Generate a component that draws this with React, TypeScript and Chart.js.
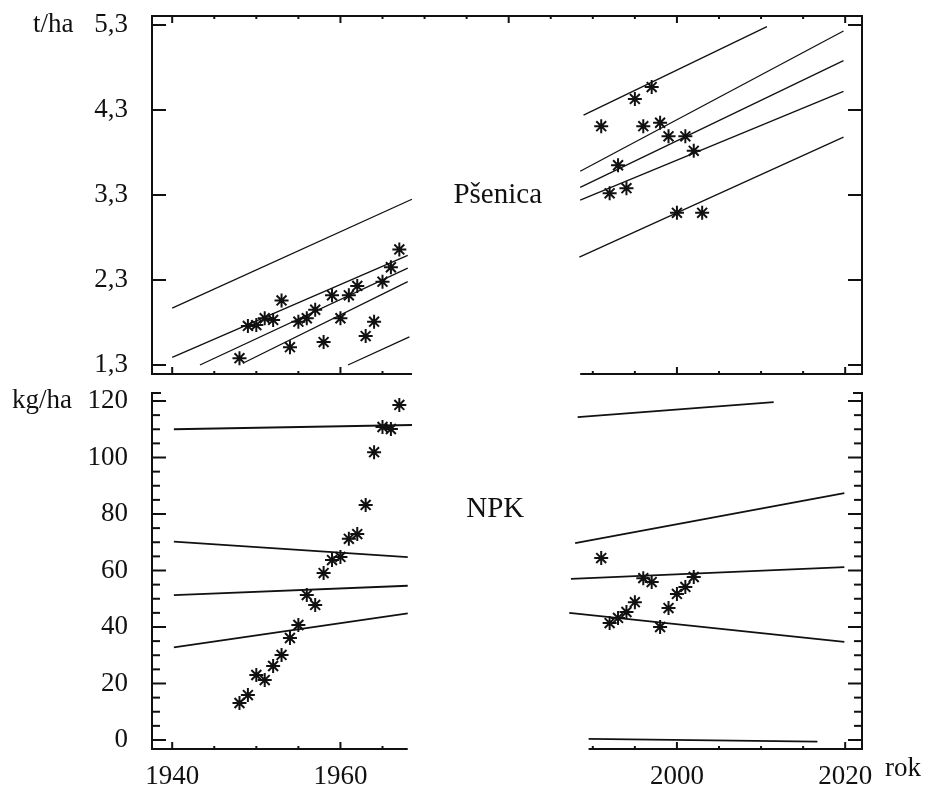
import { useEffect, useRef } from "react";
import { Chart, registerables } from "chart.js";

Chart.register(...registerables);

const FONT = "'Liberation Serif', 'Times New Roman', serif";
const INK = "#111111";

// ---- axes ----
const yearMin = 1937.6;
const yearMax = 2022.0;
const yearLabels = [1940, 1960, 2000, 2020];
const yearMajor = [1940, 1960, 1980, 2000, 2020];
const yearMinor = [1945, 1950, 1955, 1965, 1970, 1975, 1985, 1990, 1995, 2005, 2010, 2015];

const wheatMin = 1.194;
const wheatMax = 5.406;
const wheatTicks = [1.3, 2.3, 3.3, 4.3, 5.3];

const npkMin = -3.19;
const npkMax = 123.19;
const npkTicks = [0, 20, 40, 60, 80, 100, 120];
const npkMinorTicks = [5, 10, 15, 25, 30, 35, 45, 50, 55, 65, 70, 75, 85, 90, 95, 105, 110, 115];

// ---- observations ----
const yearsEarly = [1948, 1949, 1950, 1951, 1952, 1953, 1954, 1955, 1956, 1957, 1958, 1959, 1960, 1961, 1962, 1963, 1964, 1965, 1966, 1967];
const wheatEarly = [1.38, 1.76, 1.77, 1.85, 1.83, 2.06, 1.51, 1.81, 1.85, 1.95, 1.57, 2.12, 1.85, 2.12, 2.23, 1.64, 1.81, 2.28, 2.45, 2.66];
const npkEarly = [13.1, 15.9, 23.0, 21.2, 26.2, 30.1, 36.1, 40.7, 51.3, 47.8, 59.1, 63.7, 64.8, 71.2, 72.9, 83.2, 101.9, 110.8, 110.1, 118.6];

const yearsLateWheat = [1991, 1992, 1993, 1994, 1995, 1996, 1997, 1998, 1999, 2000, 2001, 2002, 2003];
const wheatLate = [4.11, 3.32, 3.65, 3.38, 4.43, 4.11, 4.57, 4.15, 3.99, 3.09, 3.99, 3.82, 3.09];

const yearsLateNpk = [1991, 1992, 1993, 1994, 1995, 1996, 1997, 1998, 1999, 2000, 2001, 2002];
const npkLate = [64.4, 41.4, 43.2, 45.3, 48.8, 57.3, 55.9, 40.0, 46.7, 51.7, 54.2, 57.7];

// ---- trend and band lines (start / end) ----
const wheatLineStartYear = [1940, 1940, 1943.3, 1948.4, 1960.9, 1988.9, 1988.5, 1988.5, 1988.5, 1988.4];
const wheatLineStartValue = [1.97, 1.39, 1.3, 1.32, 1.3, 4.24, 3.58, 3.39, 3.24, 2.57];
const wheatLineEndYear = [1968.5, 1968, 1968, 1968, 1968.2, 2010.7, 2019.8, 2019.8, 2019.8, 2019.8];
const wheatLineEndValue = [3.25, 2.59, 2.44, 2.28, 1.63, 5.28, 5.23, 4.88, 4.52, 3.98];

const npkLineStartYear = [1940.2, 1940.2, 1940.2, 1940.2, 1988.2, 1987.9, 1987.4, 1987.2, 1989.5];
const npkLineStartValue = [110.0, 70.2, 51.3, 32.8, 114.3, 69.7, 57.0, 45.0, 0.4];
const npkLineEndYear = [1968.5, 1968, 1968, 1968, 2011.5, 2019.9, 2019.9, 2019.9, 2016.7];
const npkLineEndValue = [111.5, 64.7, 54.6, 44.8, 119.6, 87.4, 61.2, 34.7, -0.6];

// axis breaks (bottom axis segments)
const wheatAxisSegments: [number | null, number | null][] = [[null, 1968.5], [1988.5, null]];
const npkAxisSegments: [number | null, number | null][] = [[null, 1968], [1989.5, null]];

function lineSets(x0: number[], y0: number[], x1: number[], y1: number[], width: number) {
  return x0.map((_, i) => ({
    data: [
      { x: x0[i], y: y0[i] },
      { x: x1[i], y: y1[i] },
    ],
    showLine: true,
    pointRadius: 0,
    borderColor: INK,
    borderWidth: width,
    fill: false,
  }));
}

function starSet(xs: number[], ys: number[]) {
  return {
    data: xs.map((x, i) => ({ x, y: ys[i] })),
    showLine: false,
    pointStyle: "star",
    pointRadius: 7,
    borderColor: INK,
    backgroundColor: INK,
    borderWidth: 2,
  };
}

type FrameCfg = {
  topBorder: boolean;
  capTop: boolean;
  segments: [number | null, number | null][];
  yMajor: number[];
  yMinor: number[];
  title: string;
  titleAt: [number, number];
  unit: string;
  unitX: number;
  unitAt: number;
  xName?: string;
};

function makeFrame(cfg: FrameCfg) {
  return {
    id: "frame",
    afterDatasetsDraw(chart: any) {
      const { ctx, chartArea: a } = chart;
      const xs = chart.scales.x;
      const ys = chart.scales.y;
      ctx.save();
      ctx.strokeStyle = INK;
      ctx.lineWidth = 2;
      const line = (x1: number, y1: number, x2: number, y2: number) => {
        ctx.beginPath();
        ctx.moveTo(x1, y1);
        ctx.lineTo(x2, y2);
        ctx.stroke();
      };
      line(a.left, a.top, a.left, a.bottom + 1);
      line(a.right, a.top, a.right, a.bottom + 1);
      if (cfg.topBorder) {
        line(a.left - 1, a.top, a.right + 1, a.top);
        for (const v of yearMajor) {
          const p = xs.getPixelForValue(v);
          line(p, a.top, p, a.top + 7);
        }
        for (const v of yearMinor) {
          const p = xs.getPixelForValue(v);
          line(p, a.top, p, a.top + 3);
        }
      }
      for (const [s, e] of cfg.segments) {
        const x1 = s == null ? a.left - 1 : xs.getPixelForValue(s);
        const x2 = e == null ? a.right + 1 : xs.getPixelForValue(e);
        line(x1, a.bottom, x2, a.bottom);
        for (const v of yearMajor) {
          const p = xs.getPixelForValue(v);
          if (p >= x1 && p <= x2) line(p, a.bottom, p, a.bottom - 7);
        }
        for (const v of yearMinor) {
          const p = xs.getPixelForValue(v);
          if (p >= x1 && p <= x2) line(p, a.bottom, p, a.bottom - 3);
        }
      }
      for (const v of cfg.yMajor) {
        const p = ys.getPixelForValue(v);
        line(a.left, p, a.left + 14, p);
        line(a.right, p, a.right - 14, p);
      }
      for (const v of cfg.yMinor) {
        const p = ys.getPixelForValue(v);
        line(a.left, p, a.left + 8, p);
        line(a.right, p, a.right - 8, p);
      }
      if (cfg.capTop) {
        line(a.left, a.top + 1, a.left + 9, a.top + 1);
        line(a.right, a.top + 1, a.right - 9, a.top + 1);
      }
      // texts
      ctx.fillStyle = INK;
      ctx.textBaseline = "middle";
      ctx.font = `29px ${FONT}`;
      ctx.textAlign = "center";
      ctx.fillText(cfg.title, xs.getPixelForValue(cfg.titleAt[0]), ys.getPixelForValue(cfg.titleAt[1]));
      ctx.font = `27px ${FONT}`;
      ctx.textAlign = "left";
      ctx.fillText(cfg.unit, cfg.unitX, ys.getPixelForValue(cfg.unitAt));
      if (cfg.xName) {
        ctx.fillText(cfg.xName, 885, a.bottom + 4 + (27 * 1.2) / 2);
      }
      ctx.restore();
    },
  };
}

function xScale(showLabels: boolean) {
  return {
    type: "linear",
    min: yearMin,
    max: yearMax,
    grid: { display: false },
    border: { display: false },
    afterBuildTicks: (s: any) => {
      s.ticks = yearLabels.map((v) => ({ value: v }));
    },
    ticks: {
      display: showLabels,
      padding: 4,
      color: INK,
      autoSkip: false,
      maxRotation: 0,
      font: { family: FONT, size: 27 },
      callback: (v: any) => String(v),
    },
    afterFit: (s: any) => {
      s.height = showLabels ? 44 : 6;
      s.paddingLeft = 0;
      s.paddingRight = 0;
    },
  };
}

function yScale(min: number, max: number, ticks: number[], fmt: (v: number) => string) {
  return {
    type: "linear",
    min,
    max,
    grid: { display: false },
    border: { display: false },
    afterBuildTicks: (s: any) => {
      s.ticks = ticks.map((v) => ({ value: v }));
    },
    ticks: {
      padding: 16,
      color: INK,
      autoSkip: false,
      font: { family: FONT, size: 27 },
      callback: (v: any) => fmt(Number(v)),
    },
    afterFit: (s: any) => {
      s.width = 152;
      s.paddingTop = 0;
      s.paddingBottom = 0;
    },
  };
}

function baseOptions(padTop: number, x: any, y: any) {
  return {
    animation: false,
    responsive: false,
    devicePixelRatio: 1,
    events: [],
    layout: { padding: { left: 0, right: 80, top: padTop, bottom: 0 }, autoPadding: false },
    plugins: { legend: { display: false }, tooltip: { enabled: false }, title: { display: false } },
    scales: { x, y },
  };
}

export default function App() {
  const topRef = useRef<HTMLCanvasElement>(null);
  const botRef = useRef<HTMLCanvasElement>(null);

  useEffect(() => {
    const wheat = new Chart(topRef.current as HTMLCanvasElement, {
      type: "scatter",
      data: {
        datasets: [
          ...lineSets(wheatLineStartYear, wheatLineStartValue, wheatLineEndYear, wheatLineEndValue, 1.3),
          starSet(yearsEarly, wheatEarly),
          starSet(yearsLateWheat, wheatLate),
        ] as any,
      },
      options: baseOptions(
        16,
        xScale(false),
        yScale(wheatMin, wheatMax, wheatTicks, (v) => v.toFixed(1).replace(".", ","))
      ) as any,
      plugins: [
        makeFrame({
          topBorder: true,
          capTop: false,
          segments: wheatAxisSegments,
          yMajor: wheatTicks,
          yMinor: [],
          title: "Pšenica",
          titleAt: [1978.7, 3.3],
          unit: "t/ha",
          unitX: 33,
          unitAt: 5.3,
        }) as any,
      ],
    });

    const npk = new Chart(botRef.current as HTMLCanvasElement, {
      type: "scatter",
      data: {
        datasets: [
          ...lineSets(npkLineStartYear, npkLineStartValue, npkLineEndYear, npkLineEndValue, 1.8),
          starSet(yearsEarly, npkEarly),
          starSet(yearsLateNpk, npkLate),
        ] as any,
      },
      options: baseOptions(12, xScale(true), yScale(npkMin, npkMax, npkTicks, (v) => String(v))) as any,
      plugins: [
        makeFrame({
          topBorder: false,
          capTop: true,
          segments: npkAxisSegments,
          yMajor: npkTicks,
          yMinor: npkMinorTicks,
          title: "NPK",
          titleAt: [1978.4, 81.5],
          unit: "kg/ha",
          unitX: 12,
          unitAt: 120,
          xName: "rok",
        }) as any,
      ],
    });

    return () => {
      wheat.destroy();
      npk.destroy();
    };
  }, []);

  return (
    <div
      style={{
        position: "absolute",
        left: 0,
        top: 0,
        width: 942,
        height: 793,
        background: "#ffffff",
        overflow: "hidden",
      }}
    >
      <canvas
        ref={topRef}
        width={942}
        height={380}
        style={{ position: "absolute", left: 0, top: 0, width: 942, height: 380 }}
      />
      <canvas
        ref={botRef}
        width={942}
        height={413}
        style={{ position: "absolute", left: 0, top: 380, width: 942, height: 413 }}
      />
    </div>
  );
}
